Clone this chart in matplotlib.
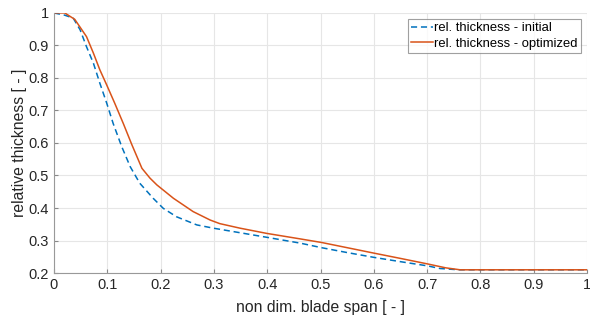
import numpy as np
import matplotlib.pyplot as plt

plt.rcParams["font.family"] = ["Liberation Sans", "DejaVu Sans"]

# rel. thickness along the blade span
span_init = [0.0, 0.02, 0.036, 0.049, 0.061, 0.074, 0.086, 0.099, 0.111, 0.127,
             0.143, 0.161, 0.186, 0.205, 0.23, 0.268, 0.299, 0.349, 0.399, 0.462,
             0.502, 0.55, 0.601, 0.65, 0.701, 0.724, 0.76, 0.8, 0.9, 1.0]
thick_init = [1.0, 0.993, 0.984, 0.948, 0.896, 0.845, 0.784, 0.722, 0.66, 0.589,
              0.527, 0.476, 0.43, 0.399, 0.373, 0.348, 0.338, 0.324, 0.31, 0.292,
              0.278, 0.263, 0.248, 0.235, 0.222, 0.214, 0.21, 0.21, 0.21, 0.21]

span_opt = [0.0, 0.02, 0.039, 0.061, 0.074, 0.086, 0.099, 0.114, 0.13, 0.146,
            0.165, 0.18, 0.193, 0.224, 0.261, 0.293, 0.311, 0.349, 0.399, 0.462,
            0.502, 0.55, 0.601, 0.65, 0.701, 0.735, 0.762, 0.8, 0.9, 1.0]
thick_opt = [1.0, 1.0, 0.98, 0.927, 0.876, 0.825, 0.778, 0.722, 0.66, 0.595,
             0.522, 0.492, 0.471, 0.43, 0.389, 0.363, 0.352, 0.338, 0.322, 0.305,
             0.294, 0.278, 0.261, 0.245, 0.228, 0.216, 0.21, 0.21, 0.21, 0.21]

fig = plt.figure(figsize=(5.9, 3.22), dpi=100)
ax = fig.add_axes([0.0915, 0.152, 0.9035, 0.808])

ax.plot(span_init, thick_init, "--", color="#0072BD", lw=1.1,
        dashes=(4, 2.5), label="rel. thickness - initial")
ax.plot(span_opt, thick_opt, "-", color="#D95319", lw=1.1,
        label="rel. thickness - optimized")

ax.set_xlim(0, 1)
ax.set_ylim(0.2, 1)
ax.set_xticks(np.arange(0, 1.01, 0.1))
ax.set_yticks(np.arange(0.2, 1.01, 0.1))
ax.set_xticklabels(["0", "0.1", "0.2", "0.3", "0.4", "0.5", "0.6", "0.7", "0.8", "0.9", "1"])
ax.set_yticklabels(["0.2", "0.3", "0.4", "0.5", "0.6", "0.7", "0.8", "0.9", "1"])
ax.tick_params(direction="in", length=3, labelsize=10.5, colors="#888888",
               labelcolor="#262626", top=False, right=False)
ax.grid(True, color="#e6e6e6", lw=0.8)
ax.set_axisbelow(True)

for side in ["top", "right"]:
    ax.spines[side].set_visible(False)
for side in ["left", "bottom"]:
    ax.spines[side].set_color("#999999")
    ax.spines[side].set_linewidth(0.8)

ax.set_xlabel("non dim. blade span [ - ]", fontsize=11.3, color="#262626", labelpad=6)
ax.set_ylabel("relative thickness [ - ]", fontsize=11.3, color="#262626", labelpad=1)

leg = ax.legend(loc="upper right", fontsize=9.4, frameon=True, fancybox=False,
                handlelength=1.7, handletextpad=0.1, borderpad=0.25,
                labelspacing=0.25, borderaxespad=0.45)
leg.get_frame().set_edgecolor("#888888")
leg.get_frame().set_linewidth(0.8)

fig.savefig("out.png", dpi=100)
